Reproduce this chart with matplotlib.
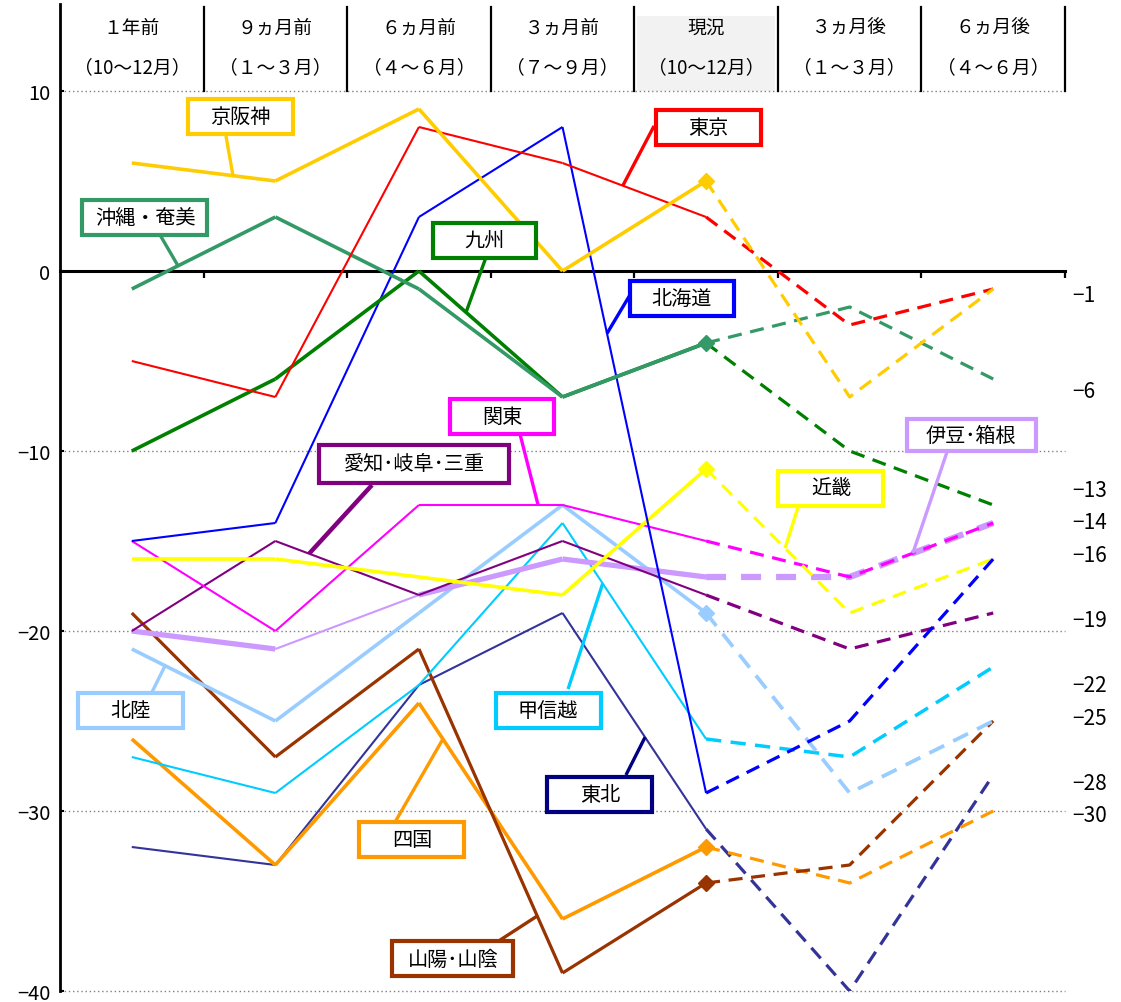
import matplotlib
matplotlib.use('Agg')
import matplotlib.pyplot as plt
from matplotlib.patches import Rectangle
import numpy as np

plt.rcParams['font.family'] = ['Noto Sans CJK JP', 'DejaVu Sans']

# --- データ ---
periods = ['１年前', '９ヵ月前', '６ヵ月前', '３ヵ月前', '現況', '３ヵ月後', '６ヵ月後']
months = ['（10～12月）', '（１～３月）', '（４～６月）', '（７～９月）',
          '（10～12月）', '（１～３月）', '（４～６月）']

# 0〜4 が実績（実線）、4〜6 が見通し（破線）
keihanshin = [6, 5, 9, 0, 5, -7, -1]
tokyo = [-5, -7, 8, 6, 3, -3, -1]
okinawa = [-1, 3, -1, -7, -4, -2, -6]
kyushu = [-10, -6, 0, -7, -4, -10, -13]
hokkaido = [-15, -14, 3, 8, -29, -25, -16]
kanto = [-15, -20, -13, -13, -15, -17, -14]
izu = [-20, -21, -18, -16, -17, -17, -14]
tokai = [-20, -15, -18, -15, -18, -21, -19]
kinki = [-16, -16, -17, -18, -11, -19, -16]
hokuriku = [-21, -25, -19, -13, -19, -29, -25]
koshinetsu = [-27, -29, -23, -14, -26, -27, -22]
tohoku = [-32, -33, -23, -19, -31, -40, -28]
sanyo = [-19, -27, -21, -39, -34, -33, -25]
shikoku = [-26, -33, -24, -36, -32, -34, -30]

end_labels = [-1, -6, -13, -14, -16, -19, -22, -25, -28, -30]

# --- スタイル ---
# name, values, color, solid lw (per segment), dashed lw, marker
series = [
    ('東北', tohoku, '#333399', [1.5] * 4, 2.3, False),
    ('四国', shikoku, '#FF9900', [2.6] * 4, 2.3, True),
    ('山陽･山陰', sanyo, '#993300', [2.3] * 4, 2.3, True),
    ('甲信越', koshinetsu, '#00CCFF', [1.5] * 4, 2.5, False),
    ('北陸', hokuriku, '#99CCFF', [2.6] * 4, 2.7, True),
    ('伊豆･箱根', izu, '#CC99FF', [3.8, 1.5, 3.8, 3.8], 4.5, False),
    ('愛知･岐阜･三重', tokai, '#800080', [1.5] * 4, 2.3, False),
    ('関東', kanto, '#FF00FF', [1.5] * 4, 2.3, False),
    ('近畿', kinki, '#FFFF00', [2.6] * 4, 2.3, True),
    ('北海道', hokkaido, '#0000FF', [1.5] * 4, 2.3, False),
    ('九州', kyushu, '#008000', [2.6] * 4, 2.3, False),
    ('沖縄・奄美', okinawa, '#339966', [2.6] * 4, 2.3, True),
    ('東京', tokyo, '#FF0000', [1.5] * 4, 2.3, False),
    ('京阪神', keihanshin, '#FFCC00', [2.6] * 4, 2.3, True),
]

# ラベル枠: 中心x, 中心y, 幅px, 高さpx, 引出線始点x, 始点y, 線上のx, 枠色, 引出線幅
label_layout = {
    '京阪神': (0.754, 8.56, 105, 35, 0.656, 7.5, 0.705, '#FFCC00', 2.4),
    '沖縄・奄美': (0.092, 3.0, 125, 35, 0.197, 2.0, 0.322, '#339966', 2.4),
    '九州': (2.454, 1.72, 103, 35, 2.468, 0.78, 2.328, '#008000', 2.4),
    '東京': (4.014, 8.0, 105, 35, 3.638, 8.06, 3.42, '#FF0000', 2.4),
    '北海道': (3.83, -1.5, 104, 35, 3.47, -1.33, 3.31, '#0000FF', 2.4),
    '関東': (2.579, -8.11, 104, 35, 2.704, -9.06, 2.83, '#FF00FF', 2.4),
    '愛知･岐阜･三重': (1.966, -10.72, 190, 38, 1.673, -11.89, 1.235, '#800080', 3.2),
    '近畿': (4.87, -12.1, 105, 35, 4.641, -13.11, 4.55, '#FFFF00', 2.4),
    '伊豆･箱根': (5.846, -9.11, 129, 32, 5.678, -10.06, 5.44, '#CC99FF', 2.4),
    '北陸': (-0.012, -24.44, 105, 35, 0.134, -23.5, 0.232, '#99CCFF', 2.4),
    '甲信越': (2.9, -24.44, 105, 35, 3.039, -23.22, 3.28, '#00CCFF', 2.4),
    '東北': (3.26, -29.06, 105, 35, 3.442, -28.0, 3.575, '#000080', 2.4),
    '四国': (1.951, -31.56, 105, 35, 1.834, -30.61, 2.167, '#FF9900', 2.4),
    '山陽･山陰': (2.237, -38.22, 121, 35, 2.544, -37.28, 2.824, '#993300', 2.4),
}

# 右端の数値ラベルの縦位置（重なり回避のためずらしてある）
end_label_y = [-1.33, -6.67, -12.17, -13.94, -15.78, -19.39, -23.0, -24.83, -28.44, -30.22]

# --- 描画 ---
W, H = 1121, 1003
fig = plt.figure(figsize=(W / 100, H / 100), dpi=100)
ax = fig.add_axes([60 / W, 11 / H, 1005 / W, 987 / H])
ymax = 267 / 18
ax.set_xlim(-0.5, 6.5)
ax.set_ylim(-40, ymax)
px_x = 1005 / 7.0
px_y = 18.0

xs = np.arange(7)

for name, vals, color, seg_lw, dash_lw, marker in series:
    for i in range(4):
        ax.plot(xs[i:i + 2], vals[i:i + 2], color=color, lw=seg_lw[i],
                solid_capstyle='butt', solid_joinstyle='miter', zorder=3)
    ax.plot(xs[4:], vals[4:], color=color, lw=dash_lw,
            dashes=(4.4, 2.7) if dash_lw < 4 else (3.2, 2.4), zorder=3)
    if marker:
        ax.plot(xs[4], vals[4], marker='D', ms=8, color=color, zorder=4)

# ラベルと引出線
for name, vals, color, seg_lw, dash_lw, marker in series:
    cx, cy, wpx, hpx, sx, sy, tx, ec, llw = label_layout[name]
    ty = np.interp(tx, xs, vals)
    ax.plot([sx, tx], [sy, ty], color=ec, lw=llw, zorder=5, solid_capstyle='butt')
    w = wpx / px_x
    h = hpx / px_y
    ax.add_patch(Rectangle((cx - w / 2, cy - h / 2), w, h, facecolor='white',
                           edgecolor=ec, lw=3, zorder=6))
    ax.text(cx, cy, name, ha='center', va='center', fontsize=14.5, zorder=7)

# 見出し行
ax.add_patch(Rectangle((3.52, 10), 0.96, 14.17 - 10, facecolor='#F2F2F2',
                       edgecolor='none', zorder=0))
for i in range(7):
    ax.text(i, 13.55, periods[i], ha='center', va='center', fontsize=13.5)
    ax.text(i, 11.35, months[i], ha='center', va='center', fontsize=13.5)
for b in np.arange(0.5, 7, 1.0):
    ax.plot([b, b], [10, ymax - 0.15], color='black', lw=1.6, zorder=2, clip_on=False)

# 軸
ax.spines['top'].set_visible(False)
ax.spines['right'].set_visible(False)
ax.spines['left'].set_linewidth(2)
ax.spines['bottom'].set_position(('data', 0))
ax.spines['bottom'].set_linewidth(2.2)
ax.set_xticks(np.arange(0.5, 7, 1.0))
ax.set_xticklabels([])
ax.tick_params(axis='x', direction='out', length=5, width=1.6)
ax.set_yticks([10, 0, -10, -20, -30, -40])
ax.tick_params(axis='y', direction='in', length=3, width=1.5, labelsize=14.5, pad=7)
for t in [10, -10, -20, -30, -40]:
    ax.axhline(t, color='#808080', lw=1, ls=(0, (1, 2)), zorder=1, clip_on=False)

for v, yy in zip(end_labels, end_label_y):
    ax.text(6.55, yy, f'\u2212{abs(v)}', ha='left', va='center', fontsize=15,
            clip_on=False)

fig.savefig('out.png', dpi=100)
